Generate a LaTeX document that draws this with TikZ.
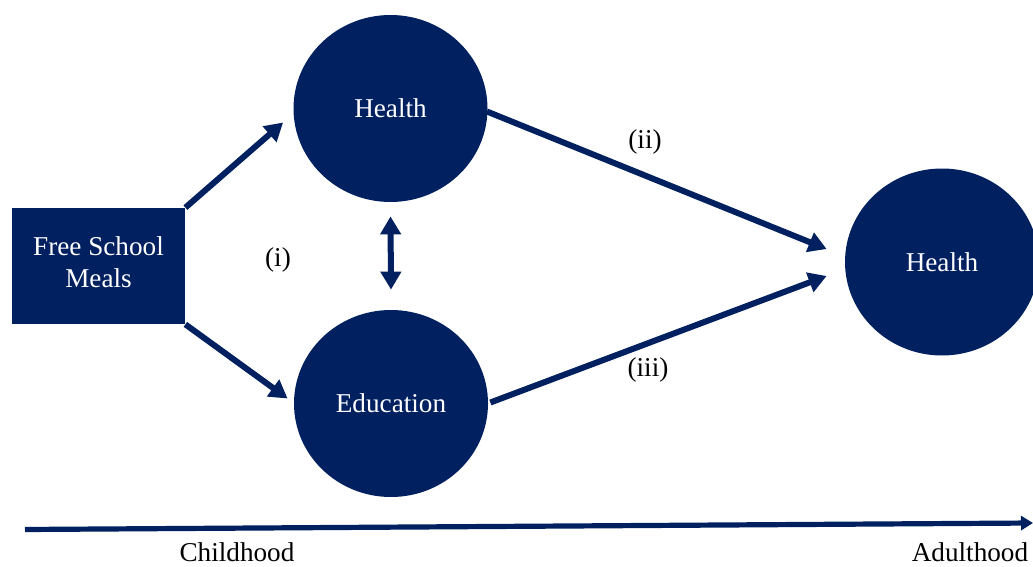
\documentclass[tikz,border=0pt]{standalone}
\usepackage{fontspec}
\setmainfont{Liberation Serif}
\usetikzlibrary{arrows.meta,shapes.geometric,calc}
\definecolor{navy}{HTML}{002060}
\begin{document}
\begin{tikzpicture}[x=0.5pt,y=-0.5pt,
  font=\fontsize{13.6pt}{16pt}\selectfont,
  blob/.style={ellipse,fill=navy,text=white,inner sep=0pt,
    minimum width=97pt,minimum height=93.5pt},
  boxnode/.style={rectangle,fill=navy,inner sep=0pt,
    minimum width=86.5pt,minimum height=58pt},
  boxtext/.style={text=white,align=center,inner sep=0pt},
  link/.style={draw=navy,line width=3pt,
    -{Triangle[length=9pt,width=10pt]}},
  both/.style={draw=navy,line width=3pt,
    {Triangle[length=9pt,width=10pt]}-{Triangle[length=9pt,width=10pt]}},
  lbl/.style={text=black,inner sep=0pt}]
\useasboundingbox (0,0) rectangle (1033,567);

% exposure and childhood outcomes
\node[boxnode] (fsm) at (98.5,266) {};
\node[boxtext] (fsmt) at ($(fsm.center)+(0,-4)$) {Free School\\Meals};
\node[blob] (hc) at (390.5,108.5) {Health};
\node[blob] (ed) at (391,403.5) {Education};
% adult outcome
\node[blob] (ha) at (942,262) {Health};

% paths
\draw[link] (fsm.north east) -- ($(hc.west)+(-10,14)$);
\draw[link] (fsm.south east) -- ($(ed.west)+(-6,-5)$);
\draw[both] ($(hc.south)+(0,14)$) -- ($(ed.north)+(0,-20)$);
\draw[link] ($(hc.east)+(-1,3)$) -- ($(ha.west)+(-18,-13)$);
\draw[link] ($(ed.east)+(2,-1)$) -- ($(ha.west)+(-18,14)$);

% path labels
\node[lbl] (li) at (278,260) {(i)};
\node[lbl] (lii) at (645,142) {(ii)};
\node[lbl] (liii) at (648,370) {(iii)};

% time axis
\coordinate (t0) at (25,529.5);
\coordinate (t1) at (1033,523);
\draw[draw=navy,line width=2.6pt,-{Triangle[length=6pt,width=7pt]}] (t0) -- (t1);
\node[lbl] (child) at (237,552) {Childhood};
\node[lbl] (adult) at (970,552) {Adulthood};
\end{tikzpicture}
\end{document}
